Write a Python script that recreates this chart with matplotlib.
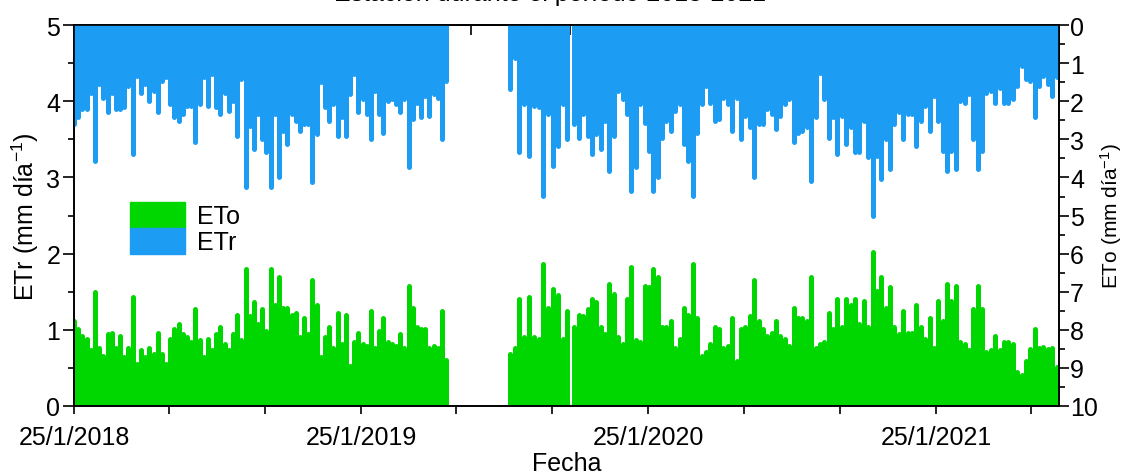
import numpy as np
import pandas as pd
import matplotlib
matplotlib.use("Agg")
import matplotlib.pyplot as plt
import matplotlib.dates as mdates
from matplotlib.patches import Patch
from matplotlib.ticker import FixedLocator, MultipleLocator, FuncFormatter, NullFormatter

plt.rcParams['font.family'] = ['Liberation Sans', 'DejaVu Sans']
plt.rcParams['mathtext.default'] = 'regular'

GREEN = '#00d700'
BLUE = '#1c9cf2'

# tramos con datos (huecos en 2019)
seg_start = ['2018-01-25', '2019-08-02', '2019-10-23']
seg_end = ['2019-05-13', '2019-10-14', '2021-06-27']

# ETo (verde, eje izquierdo)
eto_1 = [1.12, 1.01, 0.92, 0.88, 0.73, 1.49, 0.76, 0.66, 0.94, 0.96, 0.76, 0.92, 0.64, 0.76, 1.43, 0.55, 0.73, 0.64, 0.76, 0.68, 0.96, 0.68, 0.55, 0.88, 1.01, 1.07,
         0.94, 0.90, 0.84, 1.27, 0.86, 0.64, 0.88, 0.73, 0.94, 1.03, 0.81, 0.73, 0.94, 1.20, 0.86, 1.80, 1.18, 1.36, 1.07, 1.27, 0.98, 1.80, 1.33, 1.69, 1.29, 1.29, 1.20,
         1.22, 0.90, 1.16, 0.94, 1.66, 1.33, 0.64, 0.90, 1.03, 0.76, 1.22, 0.81, 1.20, 0.53, 0.84, 0.96, 0.81, 0.79, 1.25, 0.76, 0.98, 1.16, 0.84, 0.81, 0.79, 0.94, 0.76, 1.58, 1.29, 1.04,
         1.01, 1.01, 0.76, 0.79, 0.76, 1.25, 0.60]
eto_2 = [0.68, 0.76, 1.40, 0.90, 1.43, 0.90, 0.88, 1.87, 1.29, 1.53, 1.45, 0.88, 1.25]
eto_3 = [1.04, 1.20, 1.18, 1.27, 1.40, 1.36, 1.04, 0.94, 1.60, 1.47, 0.90, 0.81, 1.40, 1.82, 0.86, 0.84, 1.58, 1.56, 1.80, 1.69, 1.03,
         1.04, 1.12, 0.76, 0.88, 1.29, 1.20, 1.87, 1.16, 0.66, 0.71, 0.81, 1.04, 1.01, 0.76, 0.79, 1.16, 0.59, 1.01, 1.03, 1.18, 1.66, 1.12, 1.01, 0.92, 0.96, 1.12, 0.92,
         0.88, 0.79, 1.29, 1.16, 1.16, 1.12, 1.69, 0.76, 0.81, 0.84, 1.22, 1.01, 1.40, 1.03, 1.40, 1.33, 1.40, 1.07, 1.38, 1.03, 2.02, 1.51, 1.69, 1.29, 1.56, 1.04, 0.94, 1.25, 0.96,
         0.96, 1.33, 1.04, 0.88, 1.16, 0.76, 1.38, 1.12, 1.60, 1.38, 1.58, 0.84, 0.81, 0.73, 1.27, 1.58, 1.27, 0.71, 0.73, 0.92, 0.73, 0.84, 0.84, 0.81, 0.44, 0.41, 0.59,
         0.75, 1.01, 0.76, 0.78, 0.75, 0.76, 0.51]

# ETr (azul, eje derecho invertido)
etr_1 = [2.60, 2.42, 2.20, 2.20, 1.77, 3.56, 1.55, 1.90, 2.29, 1.77, 2.20, 2.20, 2.16, 1.60, 3.39, 1.33, 1.77, 1.55, 1.98, 1.72, 2.29, 1.46, 1.37, 2.07, 2.42, 2.51,
         2.34, 2.12, 2.12, 3.08, 2.07, 1.37, 2.12, 1.29, 2.16, 2.34, 1.77, 2.25, 2.00, 2.90, 1.42, 4.26, 2.64, 3.25, 2.34, 3.00, 3.34, 4.26, 2.34, 4.00, 2.77, 3.12, 2.34,
         2.51, 2.77, 2.60, 2.60, 4.13, 2.86, 1.50, 2.16, 2.51, 2.07, 2.90, 2.42, 2.90, 1.81, 1.29, 2.29, 1.94, 2.34, 2.99, 1.72, 2.34, 2.82, 1.98, 1.94, 2.07, 2.29, 1.94, 3.73, 2.47, 2.03,
         2.42, 1.85, 2.38, 1.81, 1.90, 2.99, 1.46]
etr_2 = [1.68, 0.85, 3.34, 2.07, 3.43, 2.12, 2.16, 4.48, 2.34, 3.70, 3.16, 2.07, 3.00]
etr_3 = [2.60, 2.95, 2.34, 2.90, 3.39, 2.86, 3.25, 2.51, 3.82, 2.90, 1.72, 1.94, 2.34, 4.35, 3.73, 2.07, 2.56, 3.30, 4.35, 4.00, 2.95,
         2.51, 2.77, 2.25, 2.07, 3.12, 3.56, 4.48, 2.82, 2.07, 1.60, 2.03, 2.51, 2.47, 1.90, 2.07, 2.77, 1.90, 2.99, 2.38, 2.68, 4.00, 2.60, 2.60, 2.20, 2.34, 2.73, 2.38,
         2.07, 1.94, 3.08, 2.82, 2.77, 2.68, 4.08, 2.42, 1.25, 1.94, 2.95, 2.42, 3.39, 2.38, 3.12, 2.68, 3.34, 3.34, 2.51, 3.47, 5.00, 3.43, 4.04, 2.99, 3.78, 2.60, 2.29, 3.00, 2.34,
         2.34, 3.16, 2.51, 2.12, 2.77, 1.85, 2.51, 3.30, 3.82, 3.30, 3.78, 1.98, 2.03, 1.81, 3.00, 3.78, 3.30, 1.77, 1.72, 2.03, 1.64, 2.03, 2.03, 1.94, 1.60, 1.07, 1.42,
         1.46, 2.42, 1.60, 1.33, 1.55, 1.85, 1.37]

years = [2018, 2019, 2020, 2021]


def draw(axis, segs, color):
    for s, e, vals in zip(seg_start, seg_end, segs):
        x = pd.date_range(s, e, periods=len(vals))
        axis.vlines(x, 0, vals, colors=color, linewidth=3.6, capstyle='round')


fig, ax = plt.subplots(figsize=(11.23, 4.77), dpi=100)
fig.subplots_adjust(left=0.066, right=0.943, bottom=0.147, top=0.945)
ax2 = ax.twinx()

draw(ax, [eto_1, eto_2, eto_3], GREEN)
draw(ax2, [etr_1, etr_2, etr_3], BLUE)

t0 = pd.Timestamp('2018-01-25')
t1 = pd.Timestamp('2021-06-30')
ax.set_xlim(t0, t1)
ax.set_ylim(0, 5)
ax2.set_ylim(10, 0)

major = [pd.Timestamp(f'{y}-01-25') for y in years]
minor = [pd.Timestamp(f'{y}-{m:02d}-25') for y in years for m in (5, 9)]
ax.xaxis.set_major_locator(FixedLocator(mdates.date2num(major)))
ax.xaxis.set_minor_locator(FixedLocator(mdates.date2num(minor)))

def fmt_date(v, pos):
    d = mdates.num2date(v)
    return f'{d.day}/{d.month}/{d.year}'

ax.xaxis.set_major_formatter(FuncFormatter(fmt_date))

ax.yaxis.set_major_locator(MultipleLocator(1))
ax.yaxis.set_minor_locator(MultipleLocator(0.5))
ax2.yaxis.set_major_locator(MultipleLocator(1))
ax2.yaxis.set_minor_locator(MultipleLocator(0.5))

ax.tick_params(axis='x', which='major', direction='inout', length=12, width=1.2, labelsize=18, pad=8)
ax.tick_params(axis='x', which='minor', direction='out', length=6, width=1.2)
ax.tick_params(axis='y', which='major', direction='out', length=8, width=1.2, labelsize=18, pad=2)
ax.tick_params(axis='y', which='minor', direction='out', length=4, width=1.2)
ax2.tick_params(axis='y', which='major', direction='out', length=7, width=1.2, labelsize=18, pad=1)
ax2.tick_params(axis='y', which='minor', direction='out', length=4, width=1.2)

# marcas superiores (capa del eje derecho)
top = ax.secondary_xaxis('top')
top_ticks = mdates.date2num(t0) + np.arange(126, 1260, 126)
top.xaxis.set_major_locator(FixedLocator(top_ticks))
top.xaxis.set_major_formatter(NullFormatter())
top.tick_params(axis='x', direction='in', length=7, width=1.2)

for sp in list(ax.spines.values()) + list(ax2.spines.values()):
    sp.set_linewidth(1.2)
top.spines['top'].set_linewidth(1.2)

ax.set_xlabel('Fecha', fontsize=18, labelpad=1)
ax.set_ylabel('ETr (mm día$^{-1}$)', fontsize=18, labelpad=4)
ax2.set_ylabel('ETo (mm día$^{-1}$)', fontsize=15, labelpad=0)

ax2.legend(handles=[Patch(color=GREEN), Patch(color=BLUE)], labels=['ETo', 'ETr'],
           loc='upper left', bbox_to_anchor=(0.057, 0.535), frameon=False, fontsize=18,
           handlelength=2.2, handleheight=1.18, labelspacing=0, borderpad=0,
           borderaxespad=0, handletextpad=0.45)

fig.text(0.49, 0.997, 'Estación durante el período 2018-2021', ha='center', va='baseline', fontsize=18)

fig.savefig('out.png', dpi=100)
